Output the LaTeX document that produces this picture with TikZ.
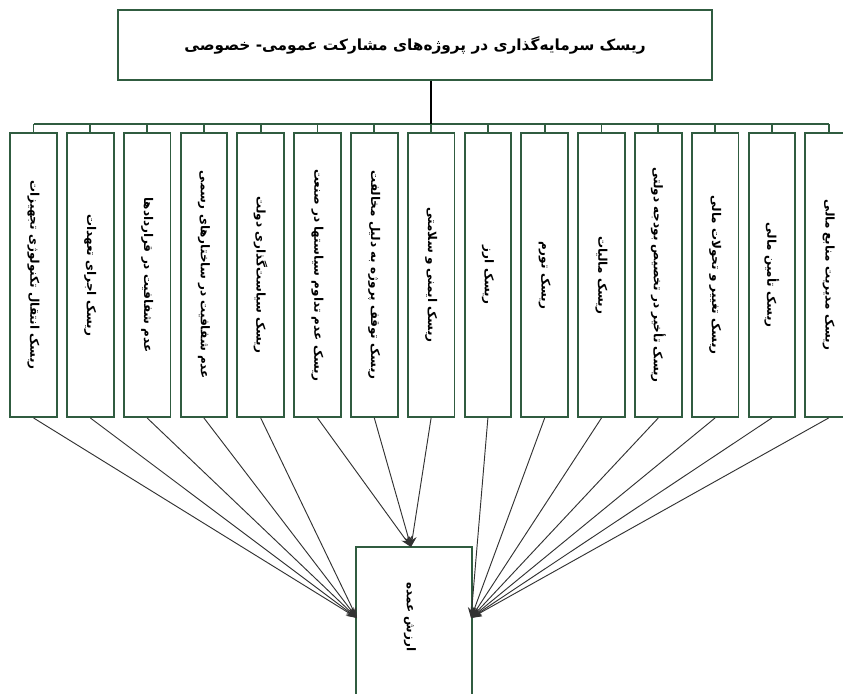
\documentclass[tikz,border=0pt]{standalone}
\usepackage{fontspec}
\newfontfamily\fa[Script=Arabic]{DejaVu Sans}
\TeXXeTstate=1
\usetikzlibrary{arrows.meta}
\definecolor{boxgreen}{RGB}{48,92,64}
\definecolor{linegray}{RGB}{50,50,50}
\begin{document}
\begin{tikzpicture}[x=0.75pt,y=-0.75pt,
  riskbox/.style={draw=boxgreen,line width=1.4pt,fill=white,minimum width=35pt,minimum height=213pt,inner sep=0pt},
  risktext/.style={rotate=-90,font=\fa\bfseries\fontsize{9}{11}\selectfont,inner sep=0pt},
  greenline/.style={draw=boxgreen,line width=1.4pt},
  feed/.style={draw=linegray,line width=0.7pt,-{Stealth[length=8pt,width=6pt]}}]
\clip (0,0) rectangle (843,693);
\fill[white] (0,0) rectangle (843,693);
\node[draw=boxgreen,line width=1.4pt,minimum width=445.5pt,minimum height=52.5pt,inner sep=0pt,
      font=\fa\bfseries\fontsize{11.5}{13}\selectfont] (title) at (415,45) {\beginR ریسک  سرمایه‌گذاری در پروژه‌های مشارکت عمومی- خصوصی\endR};
\node[draw=boxgreen,line width=1.4pt,fill=white,minimum width=87pt,minimum height=120pt,inner sep=0pt] (goal) at (414,627) {};
\node[risktext] (goaltext) at (410,617) {\beginR ارزش عمده\endR};
\coordinate (bus) at (0,124);
\foreach \i/\t in {1/{ریسک انتقال تکنولوژی تجهیزات},2/{ریسک اجرای تعهدات},3/{عدم شفافیت در قراردادها},4/{عدم شفافیت در ساختارهای رسمی},5/{ریسک سیاست‌گذاری دولت},6/{ریسک عدم تداوم سیاستها در صنعت},7/{ریسک توقف پروژه به دلیل مخالفت},8/{ریسک ایمنی و سلامتی},9/{ریسک ارز},10/{ریسک تورم},11/{ریسک مالیات},12/{ریسک تأخیر در تخصیص بودجه دولتی},13/{ریسک تغییر و تحولات مالی},14/{ریسک تأمین مالی},15/{ریسک مدیریت منابع مالی}}{
  \pgfmathsetmacro{\cx}{33.5+(\i-1)*56.8}
  \node[riskbox] (b\i) at (\cx,275) {};
  \node[risktext] (t\i) at (b\i.center) {\beginR\t\endR};
  \draw[greenline] (b\i.north) -- (b\i.north |- bus);
}
\draw[greenline] (b1.north |- bus) -- (b15.north |- bus);
\draw[line width=1pt,black] (b8.north |- title.south) -- (b8.north |- bus);
\coordinate (cl) at (357,618);
\coordinate (ct) at (411,547);
\coordinate (cr) at (471,618);
\foreach \i in {1,...,5}{\draw[feed] (b\i.south) -- (cl);}
\foreach \i in {6,7,8}{\draw[feed] (b\i.south) -- (ct);}
\foreach \i in {9,...,15}{\draw[feed] (b\i.south) -- (cr);}
\end{tikzpicture}
\end{document}
